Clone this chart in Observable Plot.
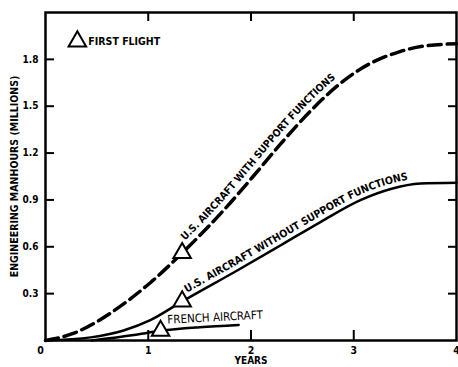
<!DOCTYPE html>
<html><head><meta charset="utf-8">
<script src="https://cdn.jsdelivr.net/npm/d3@7"></script>
<script src="https://cdn.jsdelivr.net/npm/@observablehq/plot@0.6"></script>
<style>
body{margin:0;background:#fff;}
svg{font-family:"Liberation Sans Narrow","DejaVu Sans Condensed",sans-serif;}
</style></head><body><div id="chart"></div>
<script>
// Data
const withYears = [0, 0.27, 0.5, 0.73, 1.02, 1.33, 1.77, 2.02, 2.29, 2.58, 2.84, 3.07, 3.45, 3.68, 4.0];
const withValues = [0, 0.045, 0.12, 0.22, 0.37, 0.56, 0.86, 1.05, 1.26, 1.47, 1.63, 1.74, 1.85, 1.885, 1.90];
const withoutYears = [0, 0.44, 0.76, 1.02, 1.33, 1.87, 2.29, 2.68, 3.07, 3.36, 3.65, 4.0];
const withoutValues = [0, 0.02, 0.064, 0.13, 0.25, 0.45, 0.61, 0.76, 0.90, 0.97, 1.005, 1.01];
const frenchYears = [0.45, 0.86, 1.12, 1.5, 1.88];
const frenchValues = [0, 0.035, 0.062, 0.085, 0.10];
const flightYears = [1.33, 1.33, 1.12];
const flightValues = [0.56, 0.25, 0.062];
const yTicks = [0.3, 0.6, 0.9, 1.2, 1.5, 1.8];
const xTicks = [1, 2, 3, 4];
const xZeroTick = [0];
// curve labels: text, first and last year of the stretch of curve they follow
const curveLabelTexts = ["U.S. AIRCRAFT WITH SUPPORT FUNCTIONS", "U.S. AIRCRAFT WITHOUT SUPPORT FUNCTIONS"];
const curveLabelStart = [1.40, 1.39];
const curveLabelEnd = [2.93, 3.56];
const frenchLabel = ["FRENCH AIRCRAFT"];
const frenchLabelYear = [1.65];
const frenchLabelValue = [0.148];
const legendYears = [0.31];
const legendValues = [1.915];
const legendText = ["FIRST FLIGHT"];

const zip = (xs, ys) => xs.map((x, i) => ({x, y: ys[i]}));
const withData = zip(withYears, withValues);
const withoutData = zip(withoutYears, withoutValues);
const frenchData = zip(frenchYears, frenchValues);
const flights = zip(flightYears, flightValues);
const frenchLab = frenchLabel.map((t, i) => ({t, x: frenchLabelYear[i], y: frenchLabelValue[i]}));
const legend = legendText.map((t, i) => ({t, x: legendYears[i], y: legendValues[i]}));

const FONT = '"Liberation Sans Narrow","DejaVu Sans Condensed",sans-serif';
const chart = Plot.plot({
  width: 458, height: 367,
  marginLeft: 45, marginRight: 2, marginTop: 12, marginBottom: 27,
  style: {fontFamily: FONT, fontSize: "10px", fontWeight: "bold", color: "#000", background: "#fff"},
  x: {domain: [0, 4]},
  y: {domain: [0, 2.1]},
  marks: [
    Plot.axisY({ticks: yTicks, tickSize: 0, tickPadding: 7, tickFormat: d3.format(".1f"), label: null, fontWeight: "bold", fontSize: 10}),
    Plot.axisY({ticks: yTicks, anchor: "left", tickSize: -9, tickFormat: null, text: null, label: null, strokeWidth: 2}),
    Plot.axisY({ticks: yTicks, anchor: "right", tickSize: -9, tickFormat: null, text: null, label: null, strokeWidth: 2}),
    Plot.axisX({ticks: xTicks, tickSize: 0, tickPadding: 6, tickFormat: d3.format("d"), label: null, fontWeight: "bold", fontSize: 10.5}),
    Plot.axisX({ticks: xZeroTick, tickSize: 0, tickPadding: 6, dx: -5, tickFormat: d3.format("d"), label: null, fontWeight: "bold", fontSize: 10.5}),
    Plot.axisX({ticks: [1, 2, 3], anchor: "bottom", tickSize: -10, tickFormat: null, text: null, label: null, strokeWidth: 2}),
    Plot.axisX({ticks: [1, 2, 3], anchor: "top", tickSize: -8, tickFormat: null, text: null, label: null, strokeWidth: 2}),
    Plot.frame({stroke: "#000", strokeWidth: 2.5}),
    Plot.line(withData, {x: "x", y: "y", curve: "monotone-x", stroke: "#000", strokeWidth: 3.5, strokeDasharray: "13,6"}),
    Plot.line(withoutData, {x: "x", y: "y", curve: "monotone-x", stroke: "#000", strokeWidth: 2.5}),
    Plot.line(frenchData, {x: "x", y: "y", curve: "monotone-x", stroke: "#000", strokeWidth: 2.5}),
    Plot.dot(flights, {x: "x", y: "y", symbol: "triangle", r: 6.5, fill: "#fff", stroke: "#000", strokeWidth: 2}),
    Plot.text(frenchLab, {x: "x", y: "y", text: "t", rotate: -3, fontSize: 11.5, fontWeight: "normal", fill: "#000"}),
    Plot.dot(legend, {x: "x", y: "y", symbol: "triangle", r: 6.5, fill: "#fff", stroke: "#000", strokeWidth: 2}),
    Plot.text(legend, {x: "x", y: "y", text: "t", textAnchor: "start", dx: 11, fontSize: 10.5, fontWeight: "bold", fill: "#000"}),
    Plot.text(["ENGINEERING MANHOURS (MILLIONS)"], {frameAnchor: "left", textAnchor: "middle", text: d => d, rotate: -90, dx: -31, fontSize: 10.5, fontWeight: "bold", fill: "#000"}),
    Plot.text(["YEARS"], {frameAnchor: "bottom", text: d => d, dy: 23.5, fontSize: 10, fontWeight: "bold", fill: "#000"})
  ]
});
document.getElementById("chart").appendChild(chart);

// Labels that follow the curves, placed with the plot's own scales
const sx = chart.scale("x"), sy = chart.scale("y");
const NS = "http://www.w3.org/2000/svg";
function curveLabel(data, text, y0, y1, off, len, id) {
  const line = d3.line().x(d => sx.apply(d.x)).y(d => sy.apply(d.y)).curve(d3.curveMonotoneX);
  const tmp = document.createElementNS(NS, "path");
  tmp.setAttribute("d", line(data));
  tmp.setAttribute("fill", "none");
  chart.appendChild(tmp);
  const L = tmp.getTotalLength();
  const pts = [];
  for (let s = 0; s <= L; s += 1.5) {
    const p = tmp.getPointAtLength(s);
    const q = tmp.getPointAtLength(Math.min(L, s + 2));
    const r = tmp.getPointAtLength(Math.max(0, s - 2));
    const dx = q.x - r.x, dy = q.y - r.y, n = Math.hypot(dx, dy) || 1;
    pts.push({px: p.x, x: p.x + off * dy / n, y: p.y - off * dx / n});
  }
  tmp.remove();
  const a = sx.apply(y0), b = sx.apply(y1);
  const sel = pts.filter(p => p.px >= a && p.px <= b);
  const path = document.createElementNS(NS, "path");
  path.setAttribute("id", id);
  path.setAttribute("fill", "none");
  path.setAttribute("stroke", "none");
  path.setAttribute("d", d3.line().x(p => p.x).y(p => p.y).curve(d3.curveBasis)(sel));
  chart.appendChild(path);
  const t = document.createElementNS(NS, "text");
  t.setAttribute("font-size", "10.5");
  t.setAttribute("font-weight", "bold");
  t.setAttribute("font-family", FONT);
  t.setAttribute("text-anchor", "start");
  t.setAttribute("fill", "#000");
  const tp = document.createElementNS(NS, "textPath");
  tp.setAttribute("href", "#" + id);
  tp.setAttributeNS("http://www.w3.org/1999/xlink", "xlink:href", "#" + id);
  tp.setAttribute("startOffset", "0");
  tp.textContent = text;
  t.appendChild(tp);
  chart.appendChild(t);
  // fit the label to the stretch of curve it follows
  const natural = tp.getComputedTextLength();
  if (natural > 0) t.setAttribute("font-size", (10.5 * len / natural).toFixed(2));
}
curveLabel(withData, curveLabelTexts[0], curveLabelStart[0], curveLabelEnd[0], 6, 222, "lab-with");
curveLabel(withoutData, curveLabelTexts[1], curveLabelStart[1], curveLabelEnd[1], 4.5, 250, "lab-without");
</script></body></html>
